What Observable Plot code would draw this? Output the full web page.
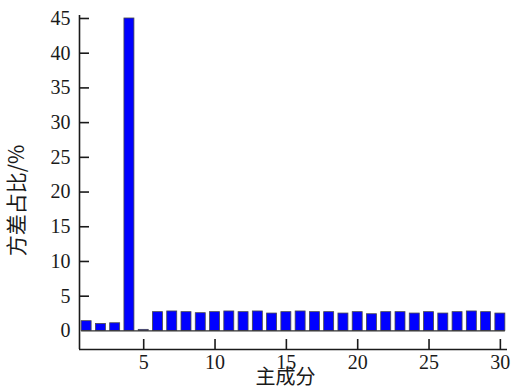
<!DOCTYPE html>
<html>
<head>
<meta charset="utf-8">
<script src="https://cdn.jsdelivr.net/npm/d3@7"></script>
<script src="https://cdn.jsdelivr.net/npm/@observablehq/plot@0.6"></script>
<style>
  html, body { margin: 0; padding: 0; background: #fff; }
  #chart svg { display: block; }
  #chart svg g.serif-lbl text, #chart svg text.serif-lbl { font-family: "Liberation Serif", "Tinos", "DejaVu Serif", serif !important; }
</style>
</head>
<body>
<div id="chart"></div>
<script>
// Principal component index (categories)
const components = [1, 2, 3, 4, 5, 6, 7, 8, 9, 10, 11, 12, 13, 14, 15, 16, 17, 18, 19, 20, 21, 22, 23, 24, 25, 26, 27, 28, 29, 30];
// Variance share (%) per component
const variancePct = [1.4, 1.0, 1.1, 45, 0.15, 2.7, 2.8, 2.7, 2.55, 2.7, 2.8, 2.7, 2.8, 2.5, 2.7, 2.8, 2.7, 2.7, 2.5, 2.7, 2.4, 2.7, 2.7, 2.5, 2.7, 2.5, 2.7, 2.8, 2.7, 2.5];
// Tick labels
const xTicks = [5, 10, 15, 20, 25, 30];
const yTicks = [0, 5, 10, 15, 20, 25, 30, 35, 40, 45];
const yTickMarks = [5, 10, 15, 20, 25, 30, 35, 40, 45];
const xLabel = "主成分";
const yLabel = "方差占比/%";

const data = components.map((c, i) => ({pc: c, v: variancePct[i]}));

const cjk = "Noto Sans CJK SC";
const yMin = -2.68, yMax = 45.43;
const barHalf = 0.35;

const chart = Plot.plot({
  width: 515,
  height: 389,
  marginLeft: 79,
  marginRight: 8,
  marginTop: 15,
  marginBottom: 40,
  style: {fontSize: "20px", color: "#1a1a1a", background: "#fff"},
  x: {domain: [0.5, 30.5]},
  y: {domain: [yMin, yMax]},
  marks: [
    Plot.rectY(data, {
      x1: d => d.pc - barHalf,
      x2: d => d.pc + barHalf,
      y: "v",
      fill: "#0000ff",
      stroke: "#4a4a4a",
      strokeWidth: 0.8
    }),
    Plot.ruleY([0], {x1: components[0] - barHalf, x2: components[components.length - 1] + barHalf, stroke: "#333", strokeWidth: 1.2}),
    // axis lines
    Plot.ruleX([0.5], {stroke: "#1a1a1a", strokeWidth: 1.6}),
    Plot.ruleY([yMin], {stroke: "#1a1a1a", strokeWidth: 1.6}),
    // inward tick marks
    Plot.axisY({ticks: yTickMarks, tickSize: 10, dx: 10, tickFormat: () => "", label: null, strokeWidth: 1.6}),
    Plot.axisX({ticks: xTicks, tickSize: 10, dy: -10, tickFormat: () => "", label: null, strokeWidth: 1.6}),
    // tick labels (serif)
    Plot.text(yTicks, {x: 0.5, y: d => d, text: d => String(d), textAnchor: "end", dx: -9, fontSize: 20, fill: "#1a1a1a", className: "serif-lbl"}),
    Plot.text(xTicks, {x: d => d, y: yMin, text: d => String(d), lineAnchor: "top", dy: 5, fontSize: 20, fill: "#1a1a1a", className: "serif-lbl"}),
    // axis titles
    Plot.text([xLabel], {frameAnchor: "bottom", lineAnchor: "middle", textAnchor: "middle", dx: -8, dy: 28, fontSize: 20, fontFamily: cjk, fill: "#1a1a1a"}),
    Plot.text([yLabel], {frameAnchor: "left", lineAnchor: "middle", textAnchor: "middle", rotate: -90, dx: -62.5, dy: 18, fontSize: 21, fontFamily: cjk, fill: "#1a1a1a"})
  ]
});
document.getElementById("chart").appendChild(chart);
</script>
</body>
</html>
